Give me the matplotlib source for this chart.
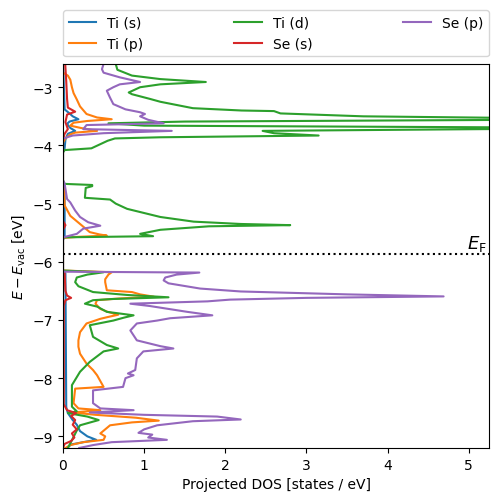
import matplotlib
matplotlib.use('Agg')
import numpy as np
import matplotlib.pyplot as plt

# Energien [eV] a projektovane DOS pro jednotlive orbitaly
ti_s_E = [-2.55, -3.38, -3.45, -3.50, -3.55, -3.59, -3.63, -3.70, -3.75, -3.80, -3.90, -4.05, -4.12,
          -4.60, -4.66, -5.58, -5.62, -6.15, -6.20, -8.50, -8.60, -8.72, -8.80, -8.91, -9.00, -9.06,
          -9.10, -9.14, -9.20]
ti_s = [0.0, 0.02, 0.08, 0.12, 0.19, 0.08, 0.05, 0.09, 0.15, 0.06, 0.03, 0.02, 0.0,
        0.0, 0.02, 0.02, 0.0, 0.0, 0.03, 0.04, 0.06, 0.12, 0.17, 0.21, 0.30, 0.41,
        0.25, 0.10, 0.05]

ti_p_E = [-2.55, -2.75, -2.80, -2.87, -3.00, -3.10, -3.21, -3.33, -3.46, -3.52, -3.55, -3.58, -3.61,
          -3.66, -3.70, -3.75, -3.78, -3.81, -3.88, -3.95,
          -4.60, -4.66, -5.03, -5.21, -5.35, -5.49, -5.53, -5.55, -5.57, -5.59,
          -6.15, -6.18, -6.22, -6.30, -6.35, -6.49, -6.52, -6.56, -6.60, -6.63, -6.66, -6.72, -6.81,
          -6.86, -6.91, -6.95, -6.98, -7.06, -7.21, -7.35, -7.46, -7.58, -7.75, -7.86, -7.95, -8.05,
          -8.15, -8.18, -8.43, -8.52, -8.55, -8.59, -8.63, -8.68, -8.73, -8.76, -8.81, -8.88, -8.95,
          -9.00, -9.06, -9.10, -9.15, -9.20]
ti_p = [0.0, 0.0, 0.06, 0.09, 0.11, 0.13, 0.17, 0.21, 0.29, 0.42, 0.60, 0.30, 0.13,
        0.09, 0.22, 0.42, 0.15, 0.09, 0.03, 0.0,
        0.0, 0.01, 0.02, 0.09, 0.21, 0.33, 0.45, 0.54, 0.20, 0.0,
        0.0, 0.60, 0.56, 0.52, 0.52, 0.54, 0.85, 0.95, 1.12, 0.70, 0.42, 0.40, 0.46,
        0.55, 0.68, 0.55, 0.46, 0.29, 0.21, 0.19, 0.19, 0.21, 0.29, 0.37, 0.42, 0.46,
        0.50, 0.15, 0.13, 0.19, 0.46, 0.12, 0.40, 0.90, 1.18, 0.85, 0.58, 0.52, 0.46,
        0.52, 0.50, 0.25, 0.09, 0.03]

ti_d_E = [-2.55, -2.60, -2.70, -2.80, -2.86, -2.91, -2.95, -3.00, -3.09, -3.12, -3.20, -3.25, -3.36,
          -3.40, -3.41, -3.45, -3.50, -3.55, -3.59, -3.62, -3.66, -3.70, -3.75, -3.79, -3.83, -3.86,
          -3.88, -3.92, -4.05, -4.08, -4.12,
          -4.66, -4.68, -4.70, -4.73, -4.90, -4.93, -5.00, -5.09, -5.23, -5.31, -5.35, -5.37, -5.39,
          -5.45, -5.52, -5.56, -5.58,
          -6.15, -6.18, -6.22, -6.27, -6.35, -6.42, -6.52, -6.57, -6.61, -6.64, -6.66, -6.72, -6.77,
          -6.86, -6.92, -6.96, -7.01, -7.09, -7.29, -7.43, -7.49, -7.54, -7.72, -7.89, -8.12, -8.49,
          -8.57, -8.60, -8.66, -8.72, -8.81, -8.90, -9.12, -9.20]
ti_d = [0.65, 0.65, 0.67, 0.85, 1.20, 1.76, 1.20, 0.95, 0.81, 0.85, 1.07, 1.20, 1.60,
        2.20, 2.60, 2.68, 3.70, 7.00, 1.50, 0.56, 1.00, 7.00, 2.46, 2.60, 3.15, 1.20,
        0.64, 0.55, 0.35, 0.02, 0.0,
        0.0, 0.36, 0.36, 0.28, 0.27, 0.58, 0.65, 0.79, 1.20, 1.61, 2.19, 2.80, 1.80,
        1.20, 0.95, 1.11, 0.0,
        0.0, 0.50, 0.30, 0.17, 0.15, 0.19, 0.37, 0.79, 1.30, 0.60, 0.37, 0.27, 0.42,
        0.54, 0.87, 0.75, 0.62, 0.33, 0.37, 0.54, 0.68, 0.50, 0.33, 0.21, 0.11, 0.11,
        0.17, 0.06, 0.30, 0.44, 0.21, 0.17, 0.09, 0.06]

se_s_E = [-2.55, -2.90, -3.20, -3.35, -3.42, -3.47, -3.60, -3.72, -3.80, -3.90, -5.30, -5.37, -5.45,
          -6.15, -6.20, -6.50, -6.58, -6.62, -6.66, -6.75, -8.45, -8.55, -8.60, -8.65, -8.72, -8.80,
          -8.88, -8.95, -9.02, -9.08, -9.13, -9.20]
se_s = [0.025, 0.04, 0.05, 0.06, 0.15, 0.05, 0.03, 0.06, 0.02, 0.0, 0.0, 0.03, 0.0,
        0.0, 0.02, 0.03, 0.05, 0.10, 0.03, 0.01, 0.01, 0.05, 0.16, 0.10, 0.15, 0.12,
        0.17, 0.11, 0.14, 0.10, 0.02, 0.0]

se_p_E = [-2.55, -2.60, -2.69, -2.75, -2.83, -2.91, -2.95, -3.00, -3.06, -3.18, -3.29, -3.38, -3.43,
          -3.46, -3.50, -3.56, -3.62, -3.65, -3.72, -3.75, -3.79, -3.83, -3.86, -3.89,
          -4.60, -4.66, -4.92, -4.98, -5.12, -5.23, -5.32, -5.38, -5.43, -5.52, -5.58,
          -6.17, -6.185, -6.22, -6.27, -6.32, -6.37, -6.46, -6.51, -6.56, -6.595, -6.62, -6.65, -6.68,
          -6.72, -6.76, -6.86, -6.92, -6.97, -7.01, -7.06, -7.18, -7.35, -7.45, -7.49, -7.54, -7.66,
          -7.86, -7.92, -7.95, -8.00, -8.15, -8.21, -8.43, -8.52, -8.55, -8.59, -8.63, -8.66, -8.71,
          -8.74, -8.81, -8.88, -8.94, -8.97, -9.02, -9.06, -9.10, -9.15, -9.20]
se_p = [0.50, 0.50, 0.48, 0.50, 0.70, 0.95, 0.70, 0.62, 0.54, 0.58, 0.62, 0.77, 0.95,
        1.01, 0.95, 1.05, 1.24, 0.29, 0.25, 1.34, 0.50, 0.12, 0.05, 0.0,
        0.0, 0.02, 0.05, 0.09, 0.15, 0.21, 0.31, 0.46, 0.25, 0.17, 0.0,
        0.0, 1.68, 1.40, 1.26, 1.24, 1.30, 1.69, 2.19, 3.50, 4.69, 3.00, 2.06, 1.78,
        0.83, 1.07, 1.53, 1.84, 1.32, 1.16, 0.91, 0.83, 0.91, 1.20, 1.36, 0.99, 0.91,
        0.89, 0.80, 0.87, 0.77, 0.74, 0.37, 0.37, 0.46, 0.87, 0.33, 1.00, 1.90, 2.19,
        1.60, 1.16, 1.00, 0.93, 1.10, 1.05, 1.28, 0.60, 0.37, 0.20]

E_F = -5.86


def main():
    fig = plt.figure(figsize=(4.98, 5.02), dpi=100)
    ax = fig.add_axes([0.1265, 0.1056, 0.8555, 0.765])

    ax.plot(ti_s, ti_s_E, label='Ti (s)')
    ax.plot(ti_p, ti_p_E, label='Ti (p)')
    ax.plot(ti_d, ti_d_E, label='Ti (d)')
    ax.plot(se_s, se_s_E, label='Se (s)')
    ax.plot(se_p, se_p_E, label='Se (p)')

    # Fermiho hladina
    ax.axhline(E_F, color='k', ls=':')
    ax.text(5.22, E_F + 0.01, r'$E_\mathrm{F}$', ha='right', va='bottom', fontsize=13)

    ax.set_xlim(0, 5.25)
    ax.set_ylim(-9.2, -2.6)
    ax.set_xlabel('Projected DOS [states / eV]')
    ax.set_ylabel(r'$E - E_\mathrm{vac}$ [eV]')

    ax.legend(loc='lower left', bbox_to_anchor=(0, 1.02, 1, 0.2), mode='expand',
              ncol=3, borderaxespad=0)

    fig.savefig('out.png', dpi=100)


if __name__ == '__main__':
    main()
